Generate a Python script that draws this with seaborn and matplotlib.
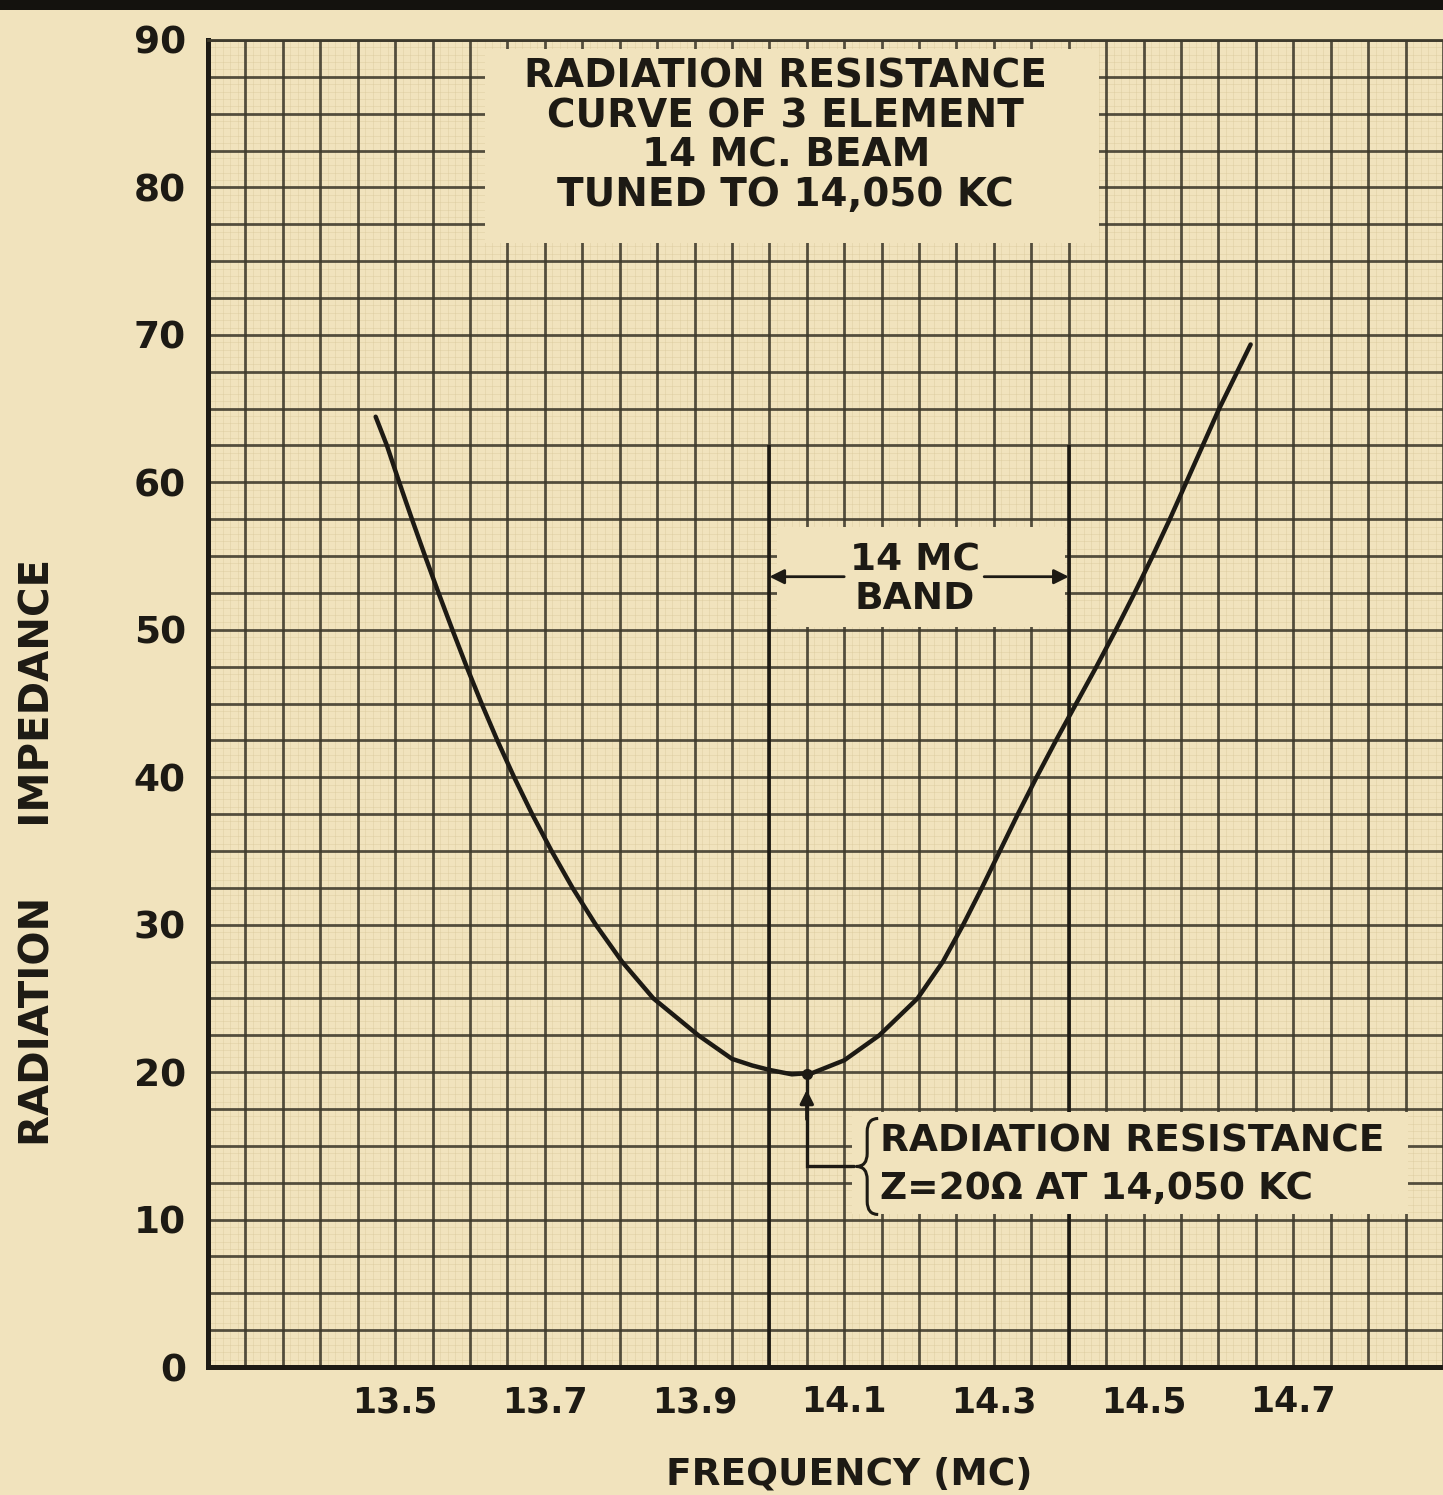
import numpy as np
import pandas as pd
import matplotlib
matplotlib.use("Agg")
import matplotlib.pyplot as plt
import seaborn as sns
from matplotlib.patches import Rectangle, PathPatch
from matplotlib.path import Path
from matplotlib.ticker import MultipleLocator, FixedLocator

# ---- data -------------------------------------------------------------
freq_mc = [13.474, 13.489, 13.5055, 13.5225, 13.540, 13.558, 13.5765, 13.5955,
           13.6155, 13.6365, 13.659, 13.683, 13.709, 13.737, 13.768, 13.803,
           13.845, 13.905, 13.950, 13.977, 14.000, 14.030, 14.058, 14.100,
           14.147, 14.198, 14.232, 14.259, 14.284, 14.308, 14.332, 14.357,
           14.383, 14.410, 14.437, 14.463, 14.488, 14.512, 14.535, 14.557,
           14.579, 14.601, 14.643]
impedance_ohm = [64.45, 62.5, 60.0, 57.5, 55.0, 52.5, 50.0, 47.5,
                 45.0, 42.5, 40.0, 37.5, 35.0, 32.5, 30.0, 27.5,
                 25.0, 22.5, 20.9, 20.45, 20.15, 19.85, 19.95, 20.8,
                 22.5, 25.0, 27.5, 30.0, 32.5, 35.0, 37.5, 40.0,
                 42.5, 45.0, 47.5, 50.0, 52.5, 55.0, 57.5, 60.0,
                 62.5, 65.0, 69.35]

band_edges_mc = [14.0, 14.4]
band_top_ohm = 62.5
resonance_mc = 14.05
resonance_ohm = 20

x_ticks = [13.5, 13.7, 13.9, 14.1, 14.3, 14.5, 14.7]
x_tick_labels = ["13.5", "13.7", "13.9", "14.1", "14.3", "14.5", "14.7"]
y_ticks = [0, 10, 20, 30, 40, 50, 60, 70, 80, 90]
y_tick_labels = [str(v) for v in y_ticks]

title_lines = ["RADIATION RESISTANCE", "CURVE OF 3 ELEMENT",
               "14 MC. BEAM", "TUNED TO 14,050 KC"]
band_label = ["14 MC", "BAND"]
note_lines = ["RADIATION RESISTANCE", "Z=20\u03a9 AT 14,050 KC"]
x_title = "FREQUENCY (MC)"
y_title = "RADIATION     IMPEDANCE"

# ---- style ------------------------------------------------------------
PAPER = "#f1e3bd"
INK = "#1d1a14"
GRID = "#3e3a2c"

sns.set_theme(style="white", rc={"axes.facecolor": PAPER,
                                 "figure.facecolor": PAPER})
plt.rcParams["font.family"] = ["DejaVu Sans"]
plt.rcParams["font.weight"] = "bold"

W, H = 1443, 1495
fig = plt.figure(figsize=(W / 100, H / 100), dpi=100)
ax = fig.add_axes([208 / W, (H - 1367) / H, (W - 208) / W, (1367 - 40) / H])
ax.set_axisbelow(True)

df = pd.DataFrame({"freq": freq_mc, "z": impedance_ohm})
sns.lineplot(data=df, x="freq", y="z", ax=ax, color=INK, lw=3.2,
             sort=False, zorder=4, solid_joinstyle="round",
             solid_capstyle="round")

ax.set_xlim(13.25, 14.9)
ax.set_ylim(0, 90)

# graph-paper grid
ax.xaxis.set_major_locator(FixedLocator(x_ticks))
ax.xaxis.set_minor_locator(MultipleLocator(0.05))
ax.yaxis.set_major_locator(FixedLocator(y_ticks))
ax.yaxis.set_minor_locator(MultipleLocator(2.5))
ax.grid(which="both", color=GRID, lw=2.0, alpha=0.88)

# faint fine rulings of the paper
for xv in np.arange(13.25, 14.9, 0.01):
    ax.axvline(xv, color="#d8c799", lw=0.6, alpha=0.45, zorder=0.2)
for yv in np.arange(0, 90, 0.5):
    ax.axhline(yv, color="#d8c799", lw=0.6, alpha=0.45, zorder=0.2)

ax.set_xticklabels(x_tick_labels)
ax.set_yticklabels(y_tick_labels)
ax.tick_params(axis="y", which="major", direction="inout", length=16,
               width=2.2, color=INK, pad=8, labelsize=27, labelcolor=INK)
ax.tick_params(axis="x", which="major", direction="out", length=6,
               width=2.2, color=INK, pad=7, labelsize=25, labelcolor=INK)
ax.tick_params(which="minor", length=0)

for s in ["left", "bottom"]:
    ax.spines[s].set_color(INK)
    ax.spines[s].set_linewidth(3.6)
ax.spines["top"].set_color(GRID)
ax.spines["top"].set_linewidth(2.0)
ax.spines["right"].set_visible(False)

ax.set_xlabel(x_title, fontsize=27, color=INK, fontweight="bold")
ax.xaxis.set_label_coords((849 - 208) / 1235, (1367 - 1475) / 1327)
ax.xaxis.label.set_va("center")
ax.set_ylabel(y_title, fontsize=29, color=INK, fontweight="bold")
ax.yaxis.set_label_coords((39 - 208) / 1235, (1367 - 852) / 1327)
ax.yaxis.label.set_va("center")

# ---- band limits ------------------------------------------------------
ax.vlines(band_edges_mc, 0, band_top_ohm, color=INK, lw=2.6, zorder=1.5)

# ---- text panels (cover the grid) --------------------------------------
def panel(x0, x1, y0, y1):
    ax.add_patch(Rectangle((x0, y0), x1 - x0, y1 - y0, facecolor=PAPER,
                           edgecolor="none", zorder=2))

panel(13.62, 14.44, 76.2, 89.4)
panel(14.01, 14.395, 50.2, 57.0)
panel(14.11, 14.853, 10.4, 17.3)

ax.text(14.022, 83.5, "\n".join(title_lines), ha="center", va="center",
        multialignment="center", fontsize=28, linespacing=1.045,
        color=INK, fontweight="bold", zorder=3)

ax.text(14.194, 53.4, "\n".join(band_label), ha="center", va="center",
        multialignment="center", fontsize=27, linespacing=1.065,
        color=INK, fontweight="bold", zorder=3)
arrow_kw = dict(arrowstyle="-|>", color=INK, lw=2.0, mutation_scale=22,
                shrinkA=0, shrinkB=0)
ax.annotate("", xy=(band_edges_mc[0], 53.6), xytext=(14.100, 53.6),
            arrowprops=arrow_kw, zorder=3)
ax.annotate("", xy=(band_edges_mc[1], 53.6), xytext=(14.287, 53.6),
            arrowprops=arrow_kw, zorder=3)

# ---- resonance call-out ------------------------------------------------
lead_y = 13.6
ax.plot([resonance_mc, resonance_mc, 14.113], [resonance_ohm - 0.1, lead_y, lead_y],
        color=INK, lw=2.4, zorder=3, solid_joinstyle="miter")
ax.annotate("", xy=(resonance_mc, resonance_ohm - 1.2),
            xytext=(resonance_mc, resonance_ohm - 3.2),
            arrowprops=dict(arrowstyle="-|>", color=INK, lw=2.4,
                            mutation_scale=20, shrinkA=0, shrinkB=0), zorder=3)
ax.plot([resonance_mc], [resonance_ohm - 0.1], "o", color=INK, ms=7, zorder=5)

# curly brace joining the two note lines
px_x = 1 / 748.5
px_y = 1 / 14.744
bx, by = 14.116, lead_y
w, h, r = 22, 48, 13
verts = [(w, h), (w / 2, h), (w / 2, h - r), (w / 2, r), (w / 2, 0), (0, 0),
         (w / 2, 0), (w / 2, -r), (w / 2, -h + r), (w / 2, -h), (w, -h)]
codes = [Path.MOVETO, Path.CURVE3, Path.CURVE3, Path.LINETO, Path.CURVE3,
         Path.CURVE3, Path.CURVE3, Path.CURVE3, Path.LINETO, Path.CURVE3,
         Path.CURVE3]
verts = [(bx + vx * px_x, by + vy * px_y) for vx, vy in verts]
ax.add_patch(PathPatch(Path(verts, codes), facecolor="none", edgecolor=INK,
                       lw=2.2, zorder=3))

ax.text(14.148, 15.3, note_lines[0], ha="left", va="center", fontsize=27,
        color=INK, fontweight="bold", zorder=3)
ax.text(14.148, 12.1, note_lines[1], ha="left", va="center", fontsize=27,
        color=INK, fontweight="bold", zorder=3)

# dark strip along the top edge
fig.patches.append(Rectangle((0, 1 - 10 / H), 1, 10 / H, transform=fig.transFigure,
                             facecolor="#14120e", edgecolor="none", zorder=10))

fig.savefig("out.png", dpi=100, facecolor=PAPER)
